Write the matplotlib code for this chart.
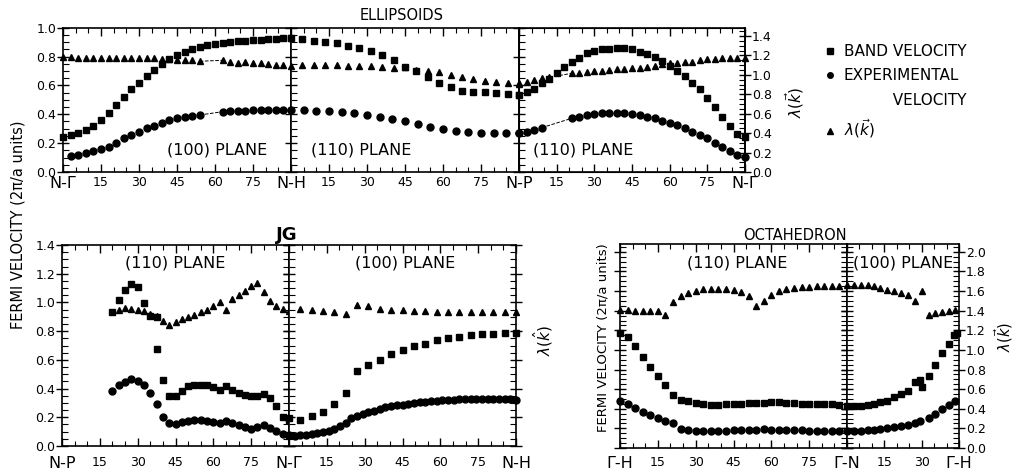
import numpy as np
import matplotlib.pyplot as plt
from matplotlib.ticker import MultipleLocator, FormatStrFormatter
from matplotlib.lines import Line2D

# ---------------- data (angles in degrees, velocities in 2pi/a units) ----------------
# ELLIPSOIDS, (100) plane, N-Gamma -> N-H
ell100_band_x = list(range(0, 91, 3))
ell100_band = [0.245, 0.256, 0.268, 0.291, 0.319, 0.360, 0.411, 0.464, 0.518, 0.573,
               0.620, 0.666, 0.707, 0.746, 0.781, 0.811, 0.834, 0.850, 0.869, 0.880,
               0.889, 0.896, 0.903, 0.908, 0.910, 0.915, 0.917, 0.922, 0.924, 0.926, 0.928]
ell100_circ_x = list(range(3, 55, 3)) + list(range(63, 91, 3))
ell100_circ = [0.111, 0.118, 0.129, 0.145, 0.157, 0.175, 0.199, 0.233, 0.256, 0.280,
               0.303, 0.319, 0.337, 0.360, 0.372, 0.384, 0.391, 0.395,
               0.418, 0.422, 0.425, 0.426, 0.427, 0.429, 0.431, 0.432, 0.432, 0.430]
ell100_lam_x = list(range(0, 55, 3)) + list(range(63, 91, 3))
ell100_lam = [1.18, 1.18, 1.17, 1.17, 1.17, 1.17, 1.17, 1.17, 1.17, 1.17,
              1.17, 1.17, 1.17, 1.16, 1.16, 1.15, 1.15, 1.15, 1.14,
              1.15, 1.13, 1.12, 1.13, 1.12, 1.12, 1.11, 1.10, 1.10, 1.09]

# ELLIPSOIDS, (110) plane, N-H -> N-P
ell110a_band_x = [0, 4.5, 9, 13.5, 18, 22.5, 27, 31.5, 36, 40.5, 45, 49.5, 54, 58.5,
                  63, 67.5, 72, 76.5, 81, 85.5, 90]
ell110a_band = [0.926, 0.919, 0.910, 0.903, 0.892, 0.876, 0.857, 0.839, 0.811, 0.776,
                0.730, 0.702, 0.656, 0.619, 0.587, 0.563, 0.557, 0.552, 0.550, 0.541, 0.534]
ell110a_circ_x = list(range(0, 91, 5))
ell110a_circ = [0.430, 0.430, 0.425, 0.423, 0.418, 0.407, 0.395, 0.384, 0.365, 0.354,
                0.330, 0.310, 0.296, 0.287, 0.277, 0.273, 0.273, 0.268, 0.268]
ell110a_lam_x = ell110a_band_x[1:]
ell110a_lam = [1.10, 1.10, 1.10, 1.10, 1.095, 1.09, 1.09, 1.085, 1.07, 1.085,
               1.05, 1.035, 1.025, 1.00, 0.975, 0.955, 0.94, 0.93, 0.92, 0.91]

# ELLIPSOIDS, (110) plane, N-P -> N-Gamma
ell110b_band_x = list(range(0, 91, 3))
ell110b_band = [0.534, 0.557, 0.573, 0.614, 0.642, 0.688, 0.730, 0.765, 0.792, 0.822,
                0.839, 0.850, 0.852, 0.857, 0.857, 0.850, 0.834, 0.818, 0.799, 0.771,
                0.735, 0.702, 0.665, 0.619, 0.573, 0.515, 0.448, 0.384, 0.319, 0.264, 0.241]
ell110b_circ_x = [0, 3, 6, 9] + list(range(21, 91, 3))
ell110b_circ = [0.268, 0.280, 0.291, 0.307,
                0.372, 0.384, 0.395, 0.402, 0.407, 0.411, 0.411, 0.407, 0.402, 0.395,
                0.384, 0.372, 0.356, 0.342, 0.326, 0.303, 0.280, 0.256, 0.233, 0.199,
                0.171, 0.148, 0.118, 0.106]
ell110b_lam_x = [0, 3, 6, 9, 12] + list(range(21, 91, 3))
ell110b_lam = [0.92, 0.93, 0.947, 0.965, 0.975,
               1.016, 1.023, 1.034, 1.040, 1.044, 1.051, 1.057, 1.064, 1.068, 1.075,
               1.085, 1.095, 1.109, 1.119, 1.126, 1.130, 1.136, 1.153, 1.160, 1.160,
               1.170, 1.170, 1.170, 1.170]

# JG, (110) plane, N-P -> N-Gamma
jg110_x = [20, 22.5, 25, 27.5, 30, 32.5, 35, 37.5, 40, 42.5, 45, 47.5, 50, 52.5, 55,
           57.5, 60, 62.5, 65, 67.5, 70, 72.5, 75, 77.5, 80, 82.5, 85, 87.5, 90]
jg110_band_x = jg110_x + [37.5]
jg110_band = [0.933, 1.019, 1.089, 1.128, 1.105, 0.996, 0.903, 0.896, 0.462, 0.346,
              0.346, 0.381, 0.416, 0.427, 0.427, 0.423, 0.409, 0.392, 0.416, 0.392,
              0.369, 0.353, 0.346, 0.346, 0.362, 0.334, 0.276, 0.200, 0.184, 0.678]
jg110_circ = [0.381, 0.422, 0.446, 0.469, 0.455, 0.427, 0.369, 0.292, 0.200, 0.160,
              0.153, 0.167, 0.176, 0.183, 0.183, 0.176, 0.167, 0.160, 0.172, 0.160,
              0.144, 0.130, 0.121, 0.130, 0.144, 0.125, 0.107, 0.084, 0.068]
jg110_lam_x = jg110_x[1:]
jg110_lam = [0.950, 0.961, 0.956, 0.950, 0.938, 0.919, 0.903, 0.868, 0.845, 0.864,
             0.885, 0.896, 0.915, 0.933, 0.950, 0.973, 1.005, 0.950, 1.026, 1.049,
             1.077, 1.112, 1.135, 1.072, 1.012, 0.977, 0.956, 0.938]

# JG, (100) plane, N-Gamma -> N-H
jg100_band_x = ell110a_band_x
jg100_band = [0.195, 0.183, 0.207, 0.237, 0.292, 0.369, 0.520, 0.566, 0.601, 0.641,
              0.671, 0.694, 0.710, 0.740, 0.752, 0.759, 0.771, 0.780, 0.782, 0.787, 0.787]
jg100_lam_x = ell110a_band_x[1:]
jg100_lam = [0.956, 0.950, 0.943, 0.933, 0.919, 0.984, 0.973, 0.956, 0.950, 0.950,
             0.943, 0.938, 0.933, 0.933, 0.933, 0.933, 0.933, 0.933, 0.933, 0.933]
jg100_circ_x = [0, 2.25, 4.5, 6.75, 9, 11.25, 13.5, 15.75, 18, 20.25, 22.5, 24.75, 27,
                29.25, 31.5, 33.75, 36, 38.25, 40.5, 42.75, 45, 47.25, 49.5, 51.75, 54,
                56.25, 58.5, 60.75, 63, 65.25, 67.5, 69.75, 72, 74.25, 76.5, 78.75, 81,
                83.25, 85.5, 87.75, 90]
jg100_circ = [0.079, 0.067, 0.074, 0.079, 0.084, 0.091, 0.098, 0.107, 0.121, 0.137,
              0.160, 0.195, 0.207, 0.223, 0.237, 0.246, 0.260, 0.270, 0.277, 0.284,
              0.288, 0.292, 0.299, 0.304, 0.306, 0.311, 0.316, 0.318, 0.323, 0.323,
              0.325, 0.327, 0.327, 0.330, 0.330, 0.330, 0.330, 0.327, 0.327, 0.325, 0.323]

# OCTAHEDRON, (110) plane, Gamma-H -> Gamma-N
oct110_x = list(range(0, 88, 3))
oct110_lam = [1.411, 1.411, 1.401, 1.395, 1.401, 1.401, 1.361, 1.490, 1.548, 1.582,
              1.605, 1.622, 1.626, 1.626, 1.622, 1.616, 1.592, 1.548, 1.452, 1.503,
              1.565, 1.605, 1.622, 1.633, 1.639, 1.646, 1.650, 1.650, 1.650, 1.650]
oct110_band = [1.173, 1.129, 1.037, 0.925, 0.823, 0.731, 0.646, 0.537, 0.493, 0.476,
               0.459, 0.449, 0.442, 0.442, 0.449, 0.452, 0.452, 0.459, 0.459, 0.459,
               0.469, 0.466, 0.459, 0.459, 0.452, 0.452, 0.452, 0.449, 0.449, 0.442]
oct110_circ = [0.476, 0.449, 0.408, 0.367, 0.340, 0.306, 0.279, 0.255, 0.190, 0.180,
               0.177, 0.177, 0.177, 0.177, 0.177, 0.180, 0.180, 0.187, 0.187, 0.194,
               0.187, 0.187, 0.187, 0.180, 0.180, 0.177, 0.177, 0.177, 0.177, 0.177]

# OCTAHEDRON, (100) plane, Gamma-N -> Gamma-H
oct100_lam_x = [0, 3, 5.7, 8.3, 11, 13.4, 16.1, 19, 21.7, 24.4, 27.5, 30.1, 32.8,
                35.5, 38.2, 40.8, 43.5]
oct100_lam = [1.667, 1.667, 1.667, 1.660, 1.650, 1.633, 1.616, 1.599, 1.582, 1.558,
              1.497, 1.599, 1.361, 1.378, 1.388, 1.395, 1.411]
oct100_band_x = [0, 3, 5.7, 8.3, 11, 13.4, 16.1, 19, 21.7, 24.4, 27.5, 29.2, 30.1,
                 32.8, 35.5, 38.2, 40.8, 42.9, 44.3]
oct100_band = [0.425, 0.425, 0.432, 0.442, 0.452, 0.466, 0.483, 0.517, 0.551, 0.585,
               0.673, 0.697, 0.619, 0.731, 0.843, 0.969, 1.061, 1.156, 1.173]
oct100_circ_x = [0, 3, 5.7, 8.3, 11, 13.4, 16.1, 19, 21.7, 24.4, 27.5, 29.2, 32.8,
                 35.5, 38.2, 40.8, 43.5]
oct100_circ = [0.177, 0.170, 0.177, 0.180, 0.187, 0.197, 0.204, 0.214, 0.221, 0.231,
               0.255, 0.272, 0.306, 0.347, 0.401, 0.442, 0.476]

NUM = ['15', '30', '45', '60', '75']

# ---------------- figure ----------------
W, H = 1016, 472
fig = plt.figure(figsize=(W / 100, H / 100), dpi=100)
MS = 5.0


def box(x0, x1, y0, y1):
    # pixel box of the reference -> figure fraction
    return [x0 / W, 1 - y1 / H, (x1 - x0) / W, (y1 - y0) / H]


def style_y(ax, ymax, left_lab=False, right_lab=False):
    ax.set_ylim(0, ymax)
    ax.yaxis.set_major_locator(MultipleLocator(0.2))
    ax.yaxis.set_minor_locator(MultipleLocator(0.05))
    ax.yaxis.set_major_formatter(FormatStrFormatter('%.1f'))
    ax.tick_params(axis='y', which='major', direction='inout', length=8, width=1.0,
                   labelsize=9, pad=1, labelleft=left_lab, labelright=right_lab)
    ax.tick_params(axis='y', which='minor', direction='in', length=4, width=0.8)


def segment(rect, xmax, xlabels, ymax, left_lab=False, right_lab=False, xpad=3):
    ax = fig.add_axes(rect)
    ax.set_xlim(0, xmax)
    ax.set_xticks(list(range(0, xmax + 1, 15)), xlabels)
    ax.xaxis.set_minor_locator(MultipleLocator(5))
    ax.tick_params(axis='x', which='major', direction='in', length=6, width=1.0,
                   labelsize=9, pad=xpad, top=True)
    ax.tick_params(axis='x', which='minor', direction='in', length=3.5, width=0.8, top=True)
    ax.tick_params(axis='y', which='both', left=True, right=True)
    style_y(ax, ymax, left_lab, right_lab)
    for lbl in ax.get_xticklabels():
        if not lbl.get_text().isdigit():
            lbl.set_fontsize(11.5)
    for s in ax.spines.values():
        s.set_linewidth(1.2)
    return ax


def dots(ax, x, y, m):
    ax.plot(x, y, m, color='k', ms=MS, ls='none', clip_on=False)


# ---- ELLIPSOIDS ----
LAM_TOP = 1.4855
a1 = segment(box(63, 291, 27.7, 172), 90, ['N-Γ'] + NUM + ['N-H'], 1.0, left_lab=True)
a2 = segment(box(291, 519, 27.7, 172), 90, [''] + NUM + ['N-P'], 1.0)
a3 = segment(box(519, 745, 27.7, 172), 90, [''] + NUM + ['N-Γ'], 1.0)
a3.tick_params(axis='y', which='both', right=False)

t1 = a1.twinx(); t1.set_ylim(0, LAM_TOP); t1.set_axis_off()
t2 = a2.twinx(); t2.set_ylim(0, LAM_TOP); t2.set_axis_off()
t3 = a3.twinx()
style_y(t3, LAM_TOP, right_lab=True)
t3.tick_params(axis='y', which='both', left=False, right=True)
t3.spines['right'].set_linewidth(1.2)

dots(a1, ell100_band_x, ell100_band, 's')
dots(a1, ell100_circ_x, ell100_circ, 'o')
dots(t1, ell100_lam_x, ell100_lam, '^')
a1.plot(ell100_circ_x[17:19], ell100_circ[17:19], 'k--', lw=0.7)
t1.plot(ell100_lam_x[18:20], ell100_lam[18:20], 'k--', lw=0.7)

dots(a2, ell110a_band_x, ell110a_band, 's')
dots(a2, ell110a_circ_x, ell110a_circ, 'o')
dots(t2, ell110a_lam_x, ell110a_lam, '^')

dots(a3, ell110b_band_x, ell110b_band, 's')
dots(a3, ell110b_circ_x, ell110b_circ, 'o')
dots(t3, ell110b_lam_x, ell110b_lam, '^')
a3.plot(ell110b_circ_x[3:5], ell110b_circ[3:5], 'k--', lw=0.7)
t3.plot(ell110b_lam_x[4:6], ell110b_lam[4:6], 'k--', lw=0.7)

a1.text(0.675, 0.15, '(100) PLANE', transform=a1.transAxes, ha='center', va='center', fontsize=11.5)
a2.text(0.31, 0.15, '(110) PLANE', transform=a2.transAxes, ha='center', va='center', fontsize=11.5)
a3.text(0.285, 0.15, '(110) PLANE', transform=a3.transAxes, ha='center', va='center', fontsize=11.5)

# ---- JG ----
b1 = segment(box(62, 289, 245, 446), 90, ['N-P'] + NUM + ['N-Γ'], 1.4, left_lab=True, xpad=7)
b2 = segment(box(289, 516, 245, 446), 90, [''] + NUM + ['N-H'], 1.4, xpad=7)
dots(b1, jg110_band_x, jg110_band, 's')
dots(b1, jg110_x, jg110_circ, 'o')
dots(b1, jg110_lam_x, jg110_lam, '^')
dots(b2, jg100_band_x, jg100_band, 's')
dots(b2, jg100_circ_x, jg100_circ, 'o')
dots(b2, jg100_lam_x, jg100_lam, '^')
b1.text(0.5, 0.91, '(110) PLANE', transform=b1.transAxes, ha='center', va='center', fontsize=11.5)
b2.text(0.51, 0.91, '(100) PLANE', transform=b2.transAxes, ha='center', va='center', fontsize=11.5)

# ---- OCTAHEDRON ----
OCT_TOP = 2.08
c1 = segment(box(620, 847, 244, 448), 90, ['Γ-H'] + NUM + ['Γ-N'], OCT_TOP, xpad=6)
c2 = segment(box(847, 959, 244, 448), 45, ['', '15', '30', 'Γ-H'], OCT_TOP, right_lab=True, xpad=6)
dots(c1, oct110_x, oct110_band, 's')
dots(c1, oct110_x, oct110_circ, 'o')
dots(c1, oct110_x, oct110_lam, '^')
dots(c2, oct100_band_x, oct100_band, 's')
dots(c2, oct100_circ_x, oct100_circ, 'o')
dots(c2, oct100_lam_x, oct100_lam, '^')
c1.text(0.515, 0.905, '(110) PLANE', transform=c1.transAxes, ha='center', va='center', fontsize=11.5)
c2.text(0.5, 0.905, '(100) PLANE', transform=c2.transAxes, ha='center', va='center', fontsize=11.5)

# ---- titles and axis labels ----
fig.text(402 / W, 1 - 15 / H, 'ELLIPSOIDS', ha='center', va='center', fontsize=10.5)
fig.text(287 / W, 1 - 235 / H, 'JG', ha='center', va='center', fontsize=13, fontweight='bold')
fig.text(795 / W, 1 - 235 / H, 'OCTAHEDRON', ha='center', va='center', fontsize=10.5)
fig.text(18 / W, 1 - 225 / H, 'FERMI VELOCITY (2π/a units)', rotation=90,
         ha='center', va='center', fontsize=10.5)
fig.text(603 / W, 1 - 338 / H, 'FERMI VELOCITY (2π/a units)', rotation=90,
         ha='center', va='center', fontsize=9.5)
fig.text(795 / W, 1 - 102 / H, r'$\lambda(\vec{k})$', rotation=90, ha='center', va='center', fontsize=11)
fig.text(543 / W, 1 - 340 / H, r'$\lambda(\hat{k})$', rotation=90, ha='center', va='center', fontsize=11)
fig.text(1004 / W, 1 - 337 / H, r'$\lambda(\vec{k})$', rotation=90, ha='center', va='center', fontsize=10.5)

# ---- legend ----
handles = [Line2D([], [], marker='s', ls='none', color='k', ms=4),
           Line2D([], [], marker='o', ls='none', color='k', ms=4),
           Line2D([], [], ls='none'),
           Line2D([], [], marker='^', ls='none', color='k', ms=4)]
labels = ['BAND VELOCITY', 'EXPERIMENTAL', '          VELOCITY', r'$\lambda(\vec{k})$']
fig.legend(handles, labels, loc='upper left', bbox_to_anchor=(824 / W, 1 - 44 / H),
           frameon=False, fontsize=11, handlelength=0.8, handletextpad=0.5,
           labelspacing=0.62, borderpad=0, borderaxespad=0)

fig.savefig('out.png', dpi=100)
plt.close(fig)
